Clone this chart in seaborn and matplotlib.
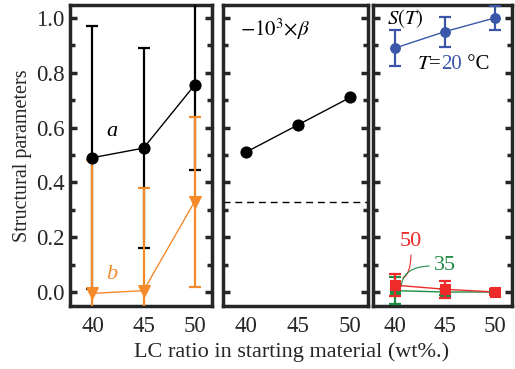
import matplotlib
matplotlib.use("Agg")
import matplotlib.pyplot as plt
import seaborn as sns
import numpy as np
import pandas as pd

# ---- data ----
lc = [40, 45, 50]
a_vals = [0.49, 0.525, 0.755]
a_err = [0.48, 0.365, 0.31]
b_vals = [-0.005, 0.005, 0.33]
b_err = [0.485, 0.375, 0.31]
beta_vals = [0.51, 0.61, 0.71]
beta_ref = 0.33
s20_vals = [0.89, 0.95, 1.0]
s20_err = [0.065, 0.055, 0.045]
s50_vals = [0.025, 0.01, 0.0]
s50_err = [0.04, 0.03, 0.01]
s35_vals = [0.005, 0.0, 0.0]
s35_err = [0.05, 0.01, 0.005]

yticks = [0.0, 0.2, 0.4, 0.6, 0.8, 1.0]
xticks = [40, 45, 50]

sns.set_theme(style="ticks")
plt.rcParams['font.family'] = ['Liberation Serif', 'DejaVu Serif']
plt.rcParams['mathtext.fontset'] = 'stix'

BLACK = "#000000"
ORANGE = "#F58A2A"
BLUE = "#3A56A8"
RED = "#EE2A2A"
GREEN = "#1E8C45"

fig = plt.figure(figsize=(5.15, 3.69), dpi=100)
W, H = 515, 369
def axrect(l, r, t, b):
    return [l / W, 1 - b / H, (r - l) / W, (b - t) / H]

ax1 = fig.add_axes(axrect(70, 212, 5, 306))
ax2 = fig.add_axes(axrect(223, 368, 5, 306))
ax3 = fig.add_axes(axrect(373, 512, 5, 306))

def style(ax, labels):
    ax.set_xlim(37.8, 51.7)
    ax.set_ylim(-0.051, 1.047)
    ax.set_xticks(xticks)
    ax.set_yticks(yticks)
    ax.set_yticks(np.arange(0.1, 1.0, 0.2), minor=True)
    for s in ax.spines.values():
        s.set_linewidth(2.5)
        s.set_visible(True)
    ax.tick_params(axis='y', which='major', direction='in', left=True, right=True,
                   length=5, width=2.5, labelsize=16.5, pad=4)
    ax.tick_params(axis='y', which='minor', direction='in', left=True, right=True,
                   length=3.5, width=2.5)
    ax.tick_params(axis='x', which='major', direction='out', length=0, width=2,
                   labelsize=16.5, pad=7)
    if not labels:
        ax.set_yticklabels([])
    ax.set_xlabel("")
    ax.set_ylabel("")

def series(ax, vals, err, color, marker, ms, lw=1.0, z=3):
    df = pd.DataFrame({"x": lc, "y": vals})
    if err is not None:
        ax.errorbar(lc, vals, yerr=err, fmt='none', ecolor=color, elinewidth=1.6,
                    capsize=4, capthick=1.6, zorder=z)
    sns.lineplot(data=df, x="x", y="y", ax=ax, color=color, lw=lw, marker=marker,
                 markersize=ms, markeredgecolor=color, markerfacecolor=color,
                 zorder=z + 1, legend=False)

# panel 1
series(ax1, a_vals, a_err, BLACK, 'o', 8)
series(ax1, b_vals, b_err, ORANGE, 'v', 8.5)
ax1.text(41.9, 0.585, "a", fontsize=16, style='italic', color=BLACK, ha='center', va='center')
ax1.text(41.9, 0.065, "b", fontsize=16, style='italic', color=ORANGE, ha='center', va='center')
style(ax1, True)
ax1.set_ylabel("Structural parameters", fontsize=14.5, labelpad=3)

# panel 2
series(ax2, beta_vals, None, BLACK, 'o', 8)
ax2.axhline(beta_ref, color=BLACK, lw=1.0, ls=(0, (5, 3.5)))
ax2.text(39.4, 1.005, r"$-10^3{\times}\beta$", fontsize=15, va='top', color=BLACK)
style(ax2, False)

# panel 3
series(ax3, s20_vals, s20_err, BLUE, 'o', 7)
series(ax3, s35_vals, s35_err, GREEN, 's', 6.5, z=4)
series(ax3, s50_vals, s50_err, RED, 's', 7.5, z=5)
ax3.text(39.2, 1.04, r"$S(T)$", fontsize=15, va='top', color=BLACK)
t1 = ax3.text(42.2, 0.83, r"$T$=", fontsize=15, va='center', color=BLACK)
t2 = ax3.annotate("20", xy=(1, 0), xycoords=t1, va='bottom', ha='left',
                  fontsize=15, color=BLUE)
ax3.annotate(" °C", xy=(1, 0), xycoords=t2, va='bottom', ha='left',
             fontsize=15, color=BLACK)
ax3.text(41.55, 0.186, "50", fontsize=16, color=RED, ha='center', va='center')
ax3.annotate("", xy=(40.5, 0.05), xytext=(41.6, 0.145),
             arrowprops=dict(arrowstyle='-', color=RED, lw=0.8,
                             connectionstyle="angle3,angleA=90,angleB=0"))
ax3.text(45.0, 0.095, "35", fontsize=16, color=GREEN, ha='center', va='center')
ax3.annotate("", xy=(40.6, 0.01), xytext=(43.7, 0.095),
             arrowprops=dict(arrowstyle='-', color=GREEN, lw=0.8,
                             connectionstyle="angle3,angleA=0,angleB=90"))
style(ax3, False)

fig.text(292 / W, 1 - 352 / H, "LC ratio in starting material (wt%.)",
         ha='center', va='center', fontsize=16)

fig.savefig("out.png", dpi=100)
